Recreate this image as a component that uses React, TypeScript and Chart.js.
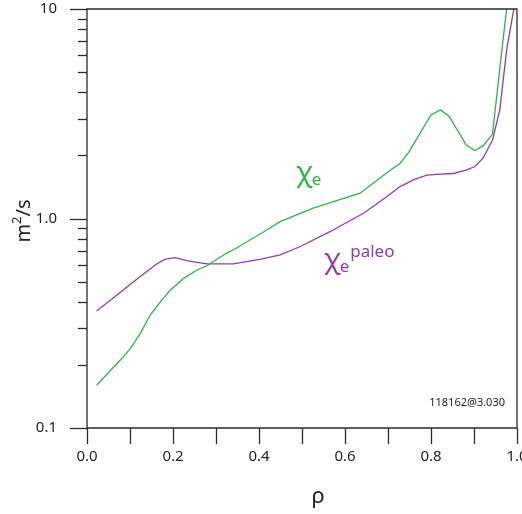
import React, { useEffect, useRef } from "react";
import { Chart, registerables } from "chart.js";

Chart.register(...registerables);

const rhoChiE = [0.0225, 0.05, 0.0775, 0.101, 0.124, 0.147, 0.171, 0.194, 0.225, 0.256, 0.278, 0.324, 0.347, 0.418, 0.449, 0.526, 0.635, 0.705, 0.728, 0.747, 0.8, 0.822, 0.842, 0.882, 0.902, 0.921, 0.943, 0.96, 0.976];
const chiE = [0.160, 0.184, 0.211, 0.240, 0.283, 0.346, 0.401, 0.456, 0.518, 0.568, 0.593, 0.682, 0.721, 0.881, 0.966, 1.12, 1.32, 1.70, 1.83, 2.05, 3.12, 3.30, 3.08, 2.24, 2.11, 2.22, 2.53, 5.2, 10.1];

const rhoPaleo = [0.0225, 0.069, 0.123, 0.162, 0.181, 0.205, 0.232, 0.278, 0.34, 0.402, 0.449, 0.495, 0.565, 0.643, 0.697, 0.728, 0.759, 0.79, 0.821, 0.852, 0.882, 0.902, 0.921, 0.943, 0.96, 0.976, 0.993];
const chiPaleo = [0.362, 0.43, 0.527, 0.607, 0.638, 0.650, 0.629, 0.607, 0.607, 0.638, 0.670, 0.733, 0.865, 1.06, 1.27, 1.42, 1.53, 1.61, 1.63, 1.64, 1.70, 1.77, 1.94, 2.37, 3.30, 6.4, 10.1];

const yTickValues = [0.1, 0.2, 0.3, 0.4, 0.5, 0.6, 0.7, 0.8, 0.9, 1, 2, 3, 4, 5, 6, 7, 8, 9, 10];
const yMajorLabels: Record<string, string> = { "0.1": "0.1", "1": "1.0", "10": "10" };
const xTickValues = [0, 0.1, 0.2, 0.3, 0.4, 0.5, 0.6, 0.7, 0.8, 0.9, 1.0];
const xLabelValues = [0, 0.2, 0.4, 0.6, 0.8, 1.0];

const GREEN = "rgb(46,178,72)";
const PURPLE = "rgb(142,62,160)";
const AXIS = "#2a2a2a";
const FONT = "'Noto Sans', sans-serif";

function drawChi(ctx: any, color: string, x: number, baseline: number) {
  ctx.fillStyle = color;
  ctx.font = `28px ${FONT}`;
  ctx.fillText("χ", x, baseline - 4);
  const w = ctx.measureText("χ").width;
  ctx.font = `17px ${FONT}`;
  ctx.fillText("e", x + w - 1, baseline);
  return x + w - 1 + ctx.measureText("e").width;
}

const axesPlugin = {
  id: "customAxes",
  afterDraw(chart: any) {
    const { ctx, chartArea } = chart;
    const xs = chart.scales.x;
    const ys = chart.scales.y;
    const L = chartArea.left, R = chartArea.right, T = chartArea.top, B = chartArea.bottom;
    ctx.save();
    ctx.strokeStyle = AXIS;
    ctx.lineWidth = 1.3;
    ctx.beginPath();
    ctx.rect(L, T, R - L, B - T);
    ctx.stroke();
    yTickValues.forEach((v) => {
      const y = Math.round(ys.getPixelForValue(v)) + 0.5;
      const major = yMajorLabels[String(v)] !== undefined;
      ctx.beginPath();
      ctx.moveTo(L - (major ? 17 : 9), y);
      ctx.lineTo(L, y);
      ctx.stroke();
    });
    xTickValues.forEach((v) => {
      const x = Math.round(xs.getPixelForValue(v)) + 0.5;
      ctx.beginPath();
      ctx.moveTo(x, B);
      ctx.lineTo(x, B + 16);
      ctx.stroke();
    });
    ctx.fillStyle = "#222";
    ctx.font = `22px ${FONT}`;
    ctx.textAlign = "center";
    ctx.textBaseline = "middle";
    ctx.fillText("ρ", 318, 497);
    ctx.save();
    ctx.translate(22, 221);
    ctx.rotate(-Math.PI / 2);
    ctx.font = `20px ${FONT}`;
    ctx.textBaseline = "middle";
    const mW = ctx.measureText("m").width;
    ctx.font = `13px ${FONT}`;
    const sW = ctx.measureText("2").width;
    ctx.font = `20px ${FONT}`;
    const rW = ctx.measureText("/s").width;
    const total = mW + sW + rW;
    let cx = -total / 2;
    ctx.textAlign = "left";
    ctx.fillText("m", cx, 2);
    cx += mW;
    ctx.font = `13px ${FONT}`;
    ctx.fillText("2", cx, -5);
    cx += sW;
    ctx.font = `20px ${FONT}`;
    ctx.fillText("/s", cx, 2);
    ctx.restore();
    ctx.textAlign = "left";
    ctx.textBaseline = "alphabetic";
    drawChi(ctx, GREEN, 296, 185);
    const end = drawChi(ctx, PURPLE, 324, 272);
    ctx.font = `17px ${FONT}`;
    ctx.fillText("paleo", end + 1, 257);
    ctx.fillStyle = "#222";
    ctx.font = `11px ${FONT}`;
    ctx.textAlign = "right";
    ctx.textBaseline = "middle";
    ctx.fillText("118162@3.030", 505, 403);
    ctx.restore();
  },
};

export default function App() {
  const ref = useRef<HTMLCanvasElement | null>(null);
  useEffect(() => {
    if (!ref.current) return;
    const chart = new Chart(ref.current, {
      type: "scatter",
      data: {
        datasets: [
          {
            label: "chi_e",
            data: rhoChiE.map((x, i) => ({ x, y: chiE[i] })),
            showLine: true,
            borderColor: GREEN,
            borderWidth: 1.3,
            pointRadius: 0,
            tension: 0,
          },
          {
            label: "chi_e paleo",
            data: rhoPaleo.map((x, i) => ({ x, y: chiPaleo[i] })),
            showLine: true,
            borderColor: PURPLE,
            borderWidth: 1.3,
            pointRadius: 0,
            tension: 0,
          },
        ],
      },
      options: {
        animation: false,
        responsive: false,
        layout: { padding: { left: 0, top: 9, right: 5, bottom: 0 } },
        plugins: { legend: { display: false }, tooltip: { enabled: false } },
        scales: {
          x: {
            type: "linear",
            min: 0,
            max: 1,
            afterFit(scale: any) {
              scale.height = 86;
              scale.paddingLeft = 0;
              scale.paddingRight = 0;
            },
            afterBuildTicks(scale: any) {
              scale.ticks = xLabelValues.map((v) => ({ value: v }));
            },
            grid: { drawOnChartArea: false, drawTicks: true, tickLength: 16, color: "transparent", tickColor: "transparent" },
            border: { display: false },
            ticks: {
              color: "#222",
              font: { family: "'Noto Sans', sans-serif", size: 15 },
              padding: 4,
              maxRotation: 0,
              autoSkip: false,
              callback: (v: any) => Number(v).toFixed(1),
            },
          },
          y: {
            type: "logarithmic",
            min: 0.1,
            max: 10,
            afterFit(scale: any) {
              scale.width = 87;
              scale.paddingTop = 0;
              scale.paddingBottom = 0;
            },
            afterBuildTicks(scale: any) {
              scale.ticks = Object.keys(yMajorLabels).map((k) => ({ value: Number(k) }));
            },
            grid: { drawOnChartArea: false, drawTicks: true, tickLength: 17, color: "transparent", tickColor: "transparent" },
            border: { display: false },
            ticks: {
              color: "#222",
              font: { family: "'Noto Sans', sans-serif", size: 15 },
              padding: 13,
              autoSkip: false,
              callback: (v: any) => yMajorLabels[String(v)] ?? "",
            },
          },
        },
      },
      plugins: [axesPlugin],
    });
    return () => chart.destroy();
  }, []);
  return (
    <div style={{ position: "absolute", left: 0, top: 0, width: 522, height: 514, background: "#fff" }}>
      <canvas ref={ref} width={522} height={514} />
    </div>
  );
}
